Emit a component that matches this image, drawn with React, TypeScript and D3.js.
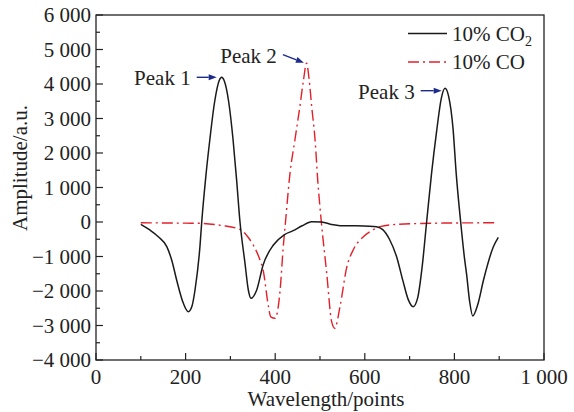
import React from "react";
import * as d3 from "d3";

const co2X = [100, 120, 139, 158, 170, 180, 195, 206, 214, 221, 232, 236, 245, 254, 265, 275, 280.5, 286, 296, 306, 314, 321, 332.6, 340, 346, 358.7, 373, 396, 420, 440, 460, 481, 504, 525, 545, 580, 610, 626, 640, 655, 671, 685, 697, 708, 718, 728, 738, 749, 760, 771, 779, 787, 797, 804, 814, 823, 827, 834, 841, 852, 865, 887, 898];
const co2Y = [-67, -230, -425, -715, -1150, -1681, -2357, -2600, -2450, -1971, -715, 0, 1300, 2377, 3500, 4100, 4195, 4100, 3500, 2377, 1200, 58, -1198, -1971, -2212, -1971, -1246, -667, -370, -250, -110, 10, 0, -70, -107, -110, -120, -140, -220, -500, -1005, -1700, -2250, -2455, -2200, -1300, 0, 1411, 2600, 3600, 3875, 3650, 2700, 1411, 0, -1100, -1488, -2300, -2725, -2400, -1681, -715, -443];

const coX = [100, 150, 200, 232, 280, 321, 340, 351, 366, 373, 385, 390, 400, 405, 411, 418, 423, 433, 444, 455, 463, 470, 476, 481.5, 489, 495, 503, 515, 526, 533, 544.6, 560, 574, 597, 615, 634, 671, 720, 780, 840, 890];
const coY = [-20, -28, -34, -38, -100, -212, -450, -667, -1100, -1391, -2455, -2750, -2791, -2600, -1971, -715, 0, 1411, 2377, 3342, 4100, 4600, 4100, 3342, 2377, 1200, 0, -1487, -2890, -3080, -2455, -1295, -812, -425, -250, -135, -68, -45, -30, -25, -20];

const xTicks = [0, 200, 400, 600, 800, 1000];
const xMinorTicks = [100, 300, 500, 700, 900];
const yTicks = [-4000, -3000, -2000, -1000, 0, 1000, 2000, 3000, 4000, 5000, 6000];
const yMinorTicks = [-3500, -2500, -1500, -500, 500, 1500, 2500, 3500, 4500, 5500];

const peakLabels = ["Peak 1", "Peak 2", "Peak 3"];
const peakTipX = [269.4, 464, 771.6];
const peakTipY = [4194, 4617, 3806];

const seriesNames = ["10% CO", "10% CO"];

const FONT = "'Liberation Serif', 'Times New Roman', serif";
const W = 574;
const H = 412;
const left = 96;
const right = 544;
const top = 15;
const bottom = 360;

const locale = d3.formatLocale({
  decimal: ".",
  thousands: " ",
  grouping: [3],
  currency: ["", ""],
  minus: "\u2212",
});
const fmt = locale.format(",d");

export default function App() {
  const x = d3.scaleLinear().domain([0, 1000]).range([left, right]);
  const y = d3.scaleLinear().domain([-4000, 6000]).range([bottom, top]);

  const line = d3
    .line<[number, number]>()
    .x((d) => x(d[0]))
    .y((d) => y(d[1]))
    .curve(d3.curveMonotoneX);

  const co2Data: [number, number][] = co2X.map((v, i) => [v, co2Y[i]]);
  const coData: [number, number][] = coX.map((v, i) => [v, coY[i]]);

  const navy = "#1c2a8c";
  const red = "#e3202a";
  const black = "#1a1a1a";

  // annotation geometry (arrow offsets in pixels)
  const arrowDefs = [
    { dx: -20, dy: 0, tx: -26, ty: 8 },
    { dx: -21, dy: -8, tx: -25, ty: -2 },
    { dx: -21, dy: 0, tx: -28, ty: 6 },
  ];

  return (
    <svg
      width={W}
      height={H}
      style={{ position: "absolute", left: 0, top: 0, background: "#fff" }}
      fontFamily={FONT}
    >
      <rect x={0} y={0} width={W} height={H} fill="#fff" />
      {/* curves */}
      <path d={line(coData) || ""} fill="none" stroke={red} strokeWidth={1.4} strokeDasharray="11,4,2,4" />
      <path d={line(co2Data) || ""} fill="none" stroke={black} strokeWidth={1.5} />

      {/* frame */}
      <rect x={left} y={top} width={right - left} height={bottom - top} fill="none" stroke="#222" strokeWidth={1.3} />

      {/* y ticks */}
      {yTicks.map((t) => (
        <g key={"y" + t}>
          <line x1={left} x2={left + 7} y1={y(t)} y2={y(t)} stroke="#222" strokeWidth={1.2} />
          <text x={left - 5} y={y(t)} dy="0.35em" textAnchor="end" fontSize={21} fill="#222">
            {fmt(t)}
          </text>
        </g>
      ))}
      {yMinorTicks.map((t) => (
        <line key={"ym" + t} x1={left} x2={left + 4} y1={y(t)} y2={y(t)} stroke="#222" strokeWidth={1.2} />
      ))}

      {/* x ticks */}
      {xTicks.map((t) => (
        <g key={"x" + t}>
          <line x1={x(t)} x2={x(t)} y1={bottom} y2={bottom - 7} stroke="#222" strokeWidth={1.2} />
          <text x={x(t)} y={384} textAnchor="middle" fontSize={21} fill="#222">
            {fmt(t)}
          </text>
        </g>
      ))}
      {xMinorTicks.map((t) => (
        <line key={"xm" + t} x1={x(t)} x2={x(t)} y1={bottom} y2={bottom - 4} stroke="#222" strokeWidth={1.2} />
      ))}

      {/* axis titles */}
      <text x={(left + right) / 2 + 6} y={406} textAnchor="middle" fontSize={21} fill="#222">
        Wavelength/points
      </text>
      <text transform={`translate(27,168) rotate(-90)`} textAnchor="middle" fontSize={21} fill="#222">
        Amplitude/a.u.
      </text>

      {/* legend */}
      <line x1={408} x2={447} y1={33.5} y2={33.5} stroke={black} strokeWidth={1.5} />
      <text x={452} y={41} fontSize={21} fill="#222">
        {seriesNames[0]}
        <tspan fontSize={14} dy={5}>2</tspan>
      </text>
      <line x1={408} x2={447} y1={62} y2={62} stroke={red} strokeWidth={1.4} strokeDasharray="11,4,2,4" />
      <text x={452} y={69} fontSize={21} fill="#222">
        {seriesNames[1]}
      </text>

      {/* peak annotations */}
      {peakLabels.map((lab, i) => {
        const tx = x(peakTipX[i]);
        const ty = y(peakTipY[i]);
        const a = arrowDefs[i];
        const sx = tx + a.dx;
        const sy = ty + a.dy;
        const ang = Math.atan2(ty - sy, tx - sx);
        const hl = 8;
        const hw = 3;
        const bx = tx - hl * Math.cos(ang);
        const by = ty - hl * Math.sin(ang);
        const px = -Math.sin(ang) * hw;
        const py = Math.cos(ang) * hw;
        return (
          <g key={lab}>
            <line x1={sx} y1={sy} x2={bx} y2={by} stroke={navy} strokeWidth={1.4} />
            <polygon points={`${tx},${ty} ${bx + px},${by + py} ${bx - px},${by - py}`} fill={navy} />
            <text x={sx - 6} y={sy + 8} textAnchor="end" fontSize={21} fill="#222">
              {lab}
            </text>
          </g>
        );
      })}
    </svg>
  );
}
